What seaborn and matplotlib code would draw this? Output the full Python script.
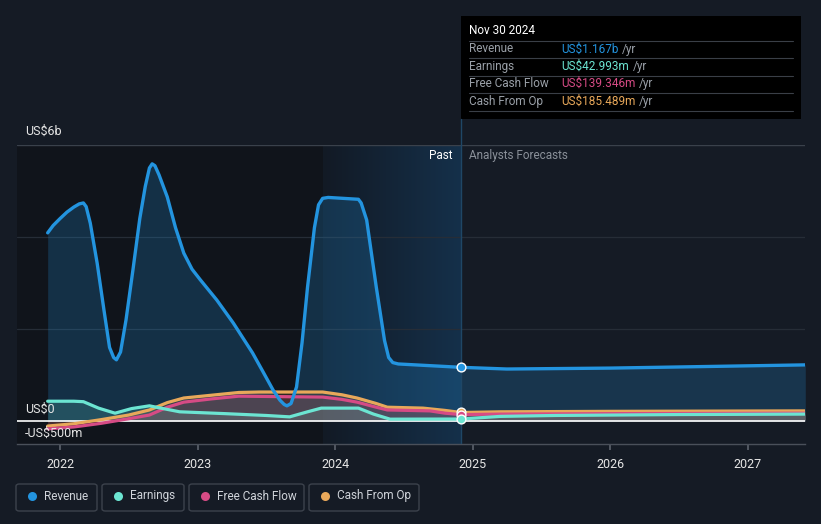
import matplotlib

matplotlib.use("Agg")
import matplotlib.pyplot as plt
import numpy as np
import pandas as pd
import seaborn as sns
from matplotlib.lines import Line2D
from matplotlib.patches import FancyBboxPatch, Rectangle

# values in US$ billions
rev_x = [2021.91, 2021.95, 2022.0, 2022.05, 2022.1, 2022.14, 2022.17, 2022.19, 2022.22, 2022.27,
         2022.32, 2022.36, 2022.39, 2022.41, 2022.44, 2022.48, 2022.53, 2022.58, 2022.62, 2022.65,
         2022.67, 2022.69, 2022.72, 2022.78, 2022.84, 2022.9, 2022.96, 2023.02, 2023.14, 2023.26,
         2023.4, 2023.48, 2023.55, 2023.6, 2023.63, 2023.65, 2023.68, 2023.72, 2023.76, 2023.8,
         2023.85, 2023.88, 2023.91, 2023.95, 2024.17, 2024.19, 2024.23, 2024.3, 2024.36, 2024.39,
         2024.42, 2024.46, 2024.915, 2025.25, 2026.0, 2027.42]
rev_y = [4.09, 4.25, 4.4, 4.54, 4.65, 4.72, 4.74, 4.66, 4.3, 3.43,
         2.4, 1.6, 1.38, 1.33, 1.5, 2.2, 3.28, 4.4, 5.1, 5.5,
         5.59, 5.55, 5.35, 4.87, 4.2, 3.65, 3.3, 3.07, 2.63, 2.13,
         1.48, 1.05, 0.67, 0.45, 0.36, 0.33, 0.38, 0.74, 1.7, 2.91,
         4.2, 4.7, 4.84, 4.86, 4.82, 4.74, 4.37, 2.91, 1.75, 1.38,
         1.27, 1.24, 1.167, 1.13, 1.15, 1.22]

earn_x = [2021.91, 2022.1, 2022.17, 2022.28, 2022.4, 2022.52, 2022.65, 2022.75, 2022.87, 2023.2,
          2023.5, 2023.67, 2023.8, 2023.9, 2024.17, 2024.28, 2024.4, 2024.915, 2025.2, 2025.6,
          2026.5, 2027.42]
earn_y = [0.43, 0.43, 0.42, 0.28, 0.17, 0.27, 0.33, 0.27, 0.2, 0.16,
          0.12, 0.09, 0.2, 0.28, 0.28, 0.15, 0.04, 0.043, 0.10, 0.12,
          0.14, 0.15]

fcf_x = [2021.91, 2022.1, 2022.3, 2022.5, 2022.65, 2022.78, 2022.9, 2023.1, 2023.3, 2023.6,
         2023.91, 2024.05, 2024.16, 2024.3, 2024.38, 2024.69, 2024.8, 2024.915, 2025.2, 2026.0,
         2027.42]
fcf_y = [-0.17, -0.13, -0.05, 0.05, 0.13, 0.3, 0.41, 0.48, 0.54, 0.53,
         0.52, 0.47, 0.41, 0.3, 0.24, 0.22, 0.17, 0.139, 0.15, 0.16,
         0.17]

cfo_x = [2021.91, 2022.1, 2022.3, 2022.5, 2022.65, 2022.78, 2022.9, 2023.1, 2023.3, 2023.45,
         2023.91, 2024.05, 2024.16, 2024.3, 2024.38, 2024.64, 2024.8, 2024.915, 2025.2, 2026.0,
         2027.42]
cfo_y = [-0.11, -0.06, 0.03, 0.13, 0.24, 0.4, 0.5, 0.56, 0.62, 0.63,
         0.63, 0.57, 0.5, 0.38, 0.3, 0.28, 0.23, 0.185, 0.2, 0.21,
         0.22]

names = ["Revenue", "Earnings", "Free Cash Flow", "Cash From Op"]
colors = ["#2394df", "#6ce5d2", "#d64b85", "#e8a85a"]
tip_values = ["US$1.167b", "US$42.993m", "US$139.346m", "US$185.489m"]
years = [2022, 2023, 2024, 2025, 2026, 2027]
now_x = 2024.915

BG = "#151b25"
W, H = 821, 524

sns.set_theme(style="dark")
plt.rcParams["font.family"] = ["Roboto", "DejaVu Sans"]

fig = plt.figure(figsize=(W / 100, H / 100), dpi=100, facecolor=BG)
ax = fig.add_axes([17 / W, 1 - 444 / H, 788 / W, 299 / H])
ax.set_facecolor(BG)
ax.set_xlim(2021.687, 2027.418)
ax.set_ylim(-0.5, 6.0)

# darker past area and blue gradient for the last year
ax.axvspan(2021.687, now_x - 1, color="#10141b", zorder=0, lw=0)
grad = np.linspace(0, 1, 256).reshape(1, -1)
cmap = matplotlib.colors.LinearSegmentedColormap.from_list("g", ["#121a25", "#15304a"])
ax.imshow(grad, extent=[now_x - 1, now_x, -0.5, 6.0], aspect="auto", cmap=cmap,
          zorder=0.5, interpolation="bilinear")

for g in [2, 4]:
    ax.axhline(g, color="#262d37", lw=0.9, zorder=1)
ax.axhline(6, color="#3a414b", lw=1.0, zorder=1)

series = [(rev_x, rev_y), (earn_x, earn_y), (fcf_x, fcf_y), (cfo_x, cfo_y)]
fill_alpha = [0.22, 0.18, 0.16, 0.14]
for (xs, ys), c, a in zip(series, colors, fill_alpha):
    ax.fill_between(xs, ys, 0, color=c, alpha=a, lw=0, zorder=2)

frames = []
for (xs, ys), n in zip(series, names):
    frames.append(pd.DataFrame({"year": xs, "value": ys, "series": n}))
df = pd.concat(frames, ignore_index=True)
lws = {"Revenue": 2.4, "Earnings": 2.3, "Free Cash Flow": 2.3, "Cash From Op": 2.3}
for n, c in zip(reversed(names), reversed(colors)):
    sub = df[df["series"] == n]
    sns.lineplot(data=sub, x="year", y="value", color=c, lw=lws[n], ax=ax, zorder=4,
                 legend=False, estimator=None, sort=False, solid_joinstyle="round")

ax.axhline(0, color="#ffffff", lw=1.2, zorder=3)
ax.axvline(now_x, color="#1f4766", lw=1.0, zorder=3)

# end-of-history markers
for (xs, ys), c in zip(reversed(series), reversed(colors)):
    v = ys[xs.index(now_x)]
    ax.scatter([now_x], [v], s=40, color=c, edgecolor="white", linewidth=1.0, zorder=6)

ax.set_xticks(years)
ax.set_xticklabels([str(y) for y in years], color="#e6e6e6", fontsize=9)
ax.set_yticks([])
ax.tick_params(axis="x", length=4, color="#5a606a", pad=6, bottom=True)
ax.set_xlabel("")
ax.set_ylabel("")
for s in ["top", "right", "left"]:
    ax.spines[s].set_visible(False)
ax.spines["bottom"].set_color("#4a505a")
ax.spines["bottom"].set_linewidth(1.0)

# y labels
fig.text(25 / W, 1 - 131 / H, "US$6b", color="#e6e6e6", fontsize=9, va="center")
fig.text(25 / W, 1 - 409 / H, "US$0", color="#e6e6e6", fontsize=9, va="center")
fig.text(25 / W, 1 - 433 / H, "-US$500m", color="#e6e6e6", fontsize=9, va="center")

fig.text(453 / W, 1 - 156 / H, "Past", color="#ffffff", fontsize=8.5, ha="right", va="center")
fig.text(469 / W, 1 - 156 / H, "Analysts Forecasts", color="#8a9099", fontsize=8.5, ha="left", va="center")

# tooltip box
fig.add_artist(Line2D([461 / W, 461 / W], [1 - 119 / H, 1 - 145 / H], color="#1f4766", lw=1.0))
fig.add_artist(Rectangle((461 / W, 1 - 119 / H), 340 / W, 103 / H, transform=fig.transFigure,
                         facecolor="#000000", edgecolor="none"))
fig.text(469 / W, 1 - 31 / H, "Nov 30 2024", color="#ffffff", fontsize=8.5, va="center")
for yy in [41, 58, 76, 93, 111]:
    fig.add_artist(Line2D([469 / W, 793 / W], [1 - yy / H, 1 - yy / H], color="#3a3f47", lw=0.8))
for i, (n, c, v) in enumerate(zip(names, colors, tip_values)):
    yy = 1 - (49 + i * 17.4) / H
    fig.text(469 / W, yy, n, color="#9aa0a8", fontsize=8.5, va="center")
    t = fig.text(561 / W, yy, v, color=c, fontsize=8.5, va="center")
    fig.canvas.draw()
    bb = t.get_window_extent()
    fig.text((bb.x1 + 4) / W, yy, "/yr", color="#9aa0a8", fontsize=8.5, va="center")

# legend boxes
boxes = [(16, 97), (102, 184), (189, 304), (309, 419)]
for (x0, x1), n, c in zip(boxes, names, colors):
    fig.add_artist(FancyBboxPatch((x0 / W, 1 - 511 / H), (x1 - x0) / W, 27 / H,
                                  boxstyle="round,pad=0,rounding_size=0.004", transform=fig.transFigure,
                                  facecolor=BG, edgecolor="#3c424c", lw=1.0))
    fig.add_artist(Line2D([(x0 + 16) / W], [1 - 496 / H], marker="o", markersize=6.5,
                          color=c, markeredgewidth=0, linestyle="none"))
    fig.text((x0 + 28) / W, 1 - 496 / H, n, color="#d0d4da", fontsize=8.5, va="center")

fig.savefig("out.png", dpi=100, facecolor=BG)
